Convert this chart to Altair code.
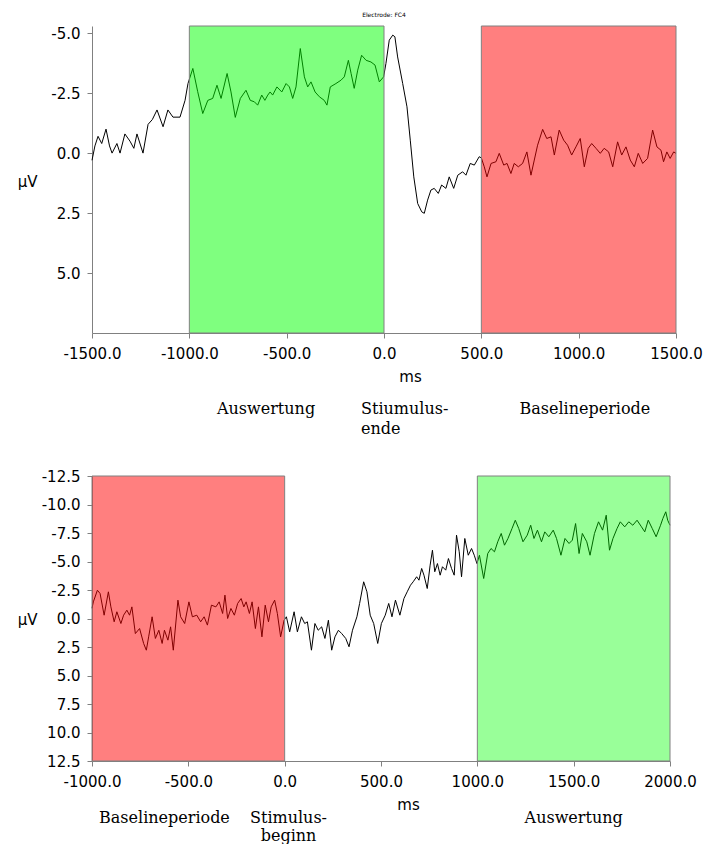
import altair as alt
import pandas as pd

# ---- Upper panel: stimulus offset at 0 ms (Electrode FC4) ----
top_ms = [
    -1500, -1485, -1469, -1450, -1428, -1410, -1397, -1372, -1356, -1331, -1305, -1285,
    -1269, -1238, -1212, -1190, -1166, -1135, -1110, -1084, -1048, -1022, -1007,
    -982, -957, -931, -905, -880, -858, -837, -806, -786, -764, -738, -709, -687, -666,
    -649, -628, -612, -597, -585, -572, -550, -525, -503, -486, -469, -452, -430, -409,
    -392, -375, -354, -332, -307, -293, -276, -247, -221, -204, -183, -169, -153, -135,
    -115, -92, -67, -46, -24, -2,
    10, 27, 45, 56, 70, 96, 118, 135, 153, 173, 194, 207, 224, 241, 258, 279, 296, 318,
    335, 358, 379, 404, 421, 443, 464, 489, 500,
    515, 529, 550, 575, 592, 615, 632, 652, 669, 690, 712, 734, 755, 772, 789, 815, 836,
    858, 875, 900, 923, 943, 964, 986, 1008, 1029, 1049, 1067, 1089, 1111, 1131, 1154,
    1175, 1200, 1221, 1243, 1265, 1286, 1306, 1329, 1354, 1380, 1402, 1423, 1436, 1453,
    1470, 1488, 1500,
]
top_uv = [
    0.30, -0.30, -0.70, -0.40, -1.00, -0.30, 0.00, -0.40, 0.00, -0.80, -0.50, -0.20,
    -0.80, 0.00, -1.20, -1.40, -1.80, -1.10, -1.80, -1.50, -1.50, -2.20, -2.90,
    -3.53, -2.56, -1.65, -2.20, -2.28, -2.83, -2.28, -3.32, -2.55, -1.49, -2.28, -2.62,
    -2.20, -2.14, -2.00, -2.42, -2.20, -2.42, -2.55, -2.42, -2.76, -2.55, -2.90, -2.76,
    -2.28, -2.76, -4.36, -3.18, -2.76, -2.97, -2.55, -2.35, -2.20, -2.00, -2.76, -2.90,
    -3.04, -3.18, -3.87, -3.32, -2.70, -3.46, -4.08, -3.87, -3.80, -3.67, -2.97, -3.18,
    -3.74, -4.71, -4.92, -4.85, -4.01, -2.90, -1.93, -0.54, 0.99, 2.10, 2.45, 2.51, 1.96,
    1.54, 1.47, 1.68, 1.33, 1.47, 0.99, 1.47, 0.92, 0.78, 0.92, 0.43, 0.50, 0.15, 0.20,
    0.57, 0.99, 0.43, 0.36, 0.01, 0.50, 0.43, 0.85, 0.43, 0.57, 0.43, -0.05, 0.92, 0.29,
    -0.33, -0.99, -0.61, -0.68, 0.08, -0.96, -0.54, -0.33, 0.08, -0.26, -0.61, 0.57,
    -0.20, -0.40, -0.20, 0.01, -0.20, -0.05, 0.57, -0.47, 0.08, -0.26, 0.29, 0.57, 0.01,
    0.43, 0.22, -0.96, -0.26, -0.12, 0.36, -0.05, 0.22, -0.05, 0.01,
]
top_x_ticks = [-1500, -1000, -500, 0, 500, 1000, 1500]
top_y_ticks = [-5.0, -2.5, 0.0, 2.5, 5.0]
top_windows = [(-1000, 0, "eval"), (500, 1500, "base")]
top_notes = [("Auswertung", -606), ("Baselineperiode", 1032)]
top_note_left = [("Stiumulus-", -118), ("ende", -118)]

# ---- Lower panel: stimulus onset at 0 ms ----
bot_ms = [
    -1000, -993, -972, -958, -937, -915, -902, -885, -871, -850, -836, -819, -805, -793,
    -775, -753, -732, -718, -706, -688, -671, -653, -636, -624, -606, -592, -578, -554,
    -540, -519, -497, -479, -456, -436, -418, -401, -380, -357, -340, -322, -310, -296,
    -279, -261, -244, -226, -212, -200, -183, -169, -152, -136, -118, -101, -84, -70,
    -52, -38, -21, -3,
    9, 26, 49, 66, 87, 104, 118, 139, 157, 174, 192, 209, 227, 244, 261, 279, 296, 317,
    334, 352, 375, 389, 410, 427, 444, 462, 483, 502, 522, 540, 557, 575, 598, 619, 636,
    653, 667, 685, 697, 711, 723, 740, 755, 767, 779, 793, 807, 819, 836, 850, 866, 880,
    892, 906, 918, 935, 953, 970, 984, 998,
    1011, 1033, 1054, 1071, 1089, 1106, 1124, 1141, 1159, 1180, 1197, 1215, 1237, 1259,
    1277, 1294, 1312, 1333, 1350, 1371, 1394, 1411, 1434, 1455, 1476, 1493, 1510, 1528,
    1545, 1568, 1585, 1608, 1629, 1650, 1669, 1686, 1704, 1725, 1742, 1765, 1786, 1807,
    1829, 1852, 1869, 1887, 1908, 1928, 1951, 1963, 1978, 1988, 2000,
]
bot_uv = [
    -0.90, -1.46, -2.48, -2.19, -0.29, -2.34, -1.02, 0.29, -0.59, 0.44, -0.29, -0.73,
    -0.29, -1.02, 1.32, 0.88, 2.19, 2.78, 1.61, -0.15, 1.75, 1.03, 2.19, 1.03, 1.90, 0.73,
    2.78, -1.61, -0.15, 0.44, -1.46, -0.15, -0.29, 0.29, -0.15, 0.58, -1.17, -1.02, -1.46,
    -0.44, -2.05, 0.00, -0.88, -0.29, -1.32, -1.75, -1.02, -1.46, -0.44, -1.46, 0.88,
    -1.02, 1.61, -1.17, 0.29, -1.02, -1.61, -0.44, 1.61, 0.15,
    -0.15, 1.17, -0.59, 1.17, -0.15, 0.44, 0.29, 2.78, 0.44, 1.03, 0.73, 1.75, 0.15, 2.78,
    1.61, 1.03, 1.32, 1.75, 2.48, 1.03, -0.15, -1.32, -3.22, -2.34, -0.29, 0.44, 2.19,
    0.44, -0.29, -1.32, -0.15, -1.61, -0.29, -1.75, -2.34, -2.92, -3.22, -3.66, -3.36,
    -4.39, -3.80, -2.63, -4.68, -5.99, -4.10, -4.82, -3.80, -4.54, -4.24, -5.26, -4.39,
    -3.80, -7.31, -5.85, -3.66, -7.02, -5.55, -6.14, -5.55, -4.82,
    -5.55, -3.51, -5.70, -6.14, -5.85, -6.73, -7.46, -6.43, -7.02, -7.89, -8.62, -7.89,
    -6.73, -7.31, -8.18, -7.02, -7.75, -6.73, -7.60, -7.17, -7.75, -7.02, -5.55, -7.02,
    -6.58, -6.87, -8.33, -5.70, -7.46, -6.73, -5.55, -7.46, -8.48, -7.75, -9.06, -5.99,
    -7.02, -7.89, -8.48, -8.04, -8.48, -8.18, -8.62, -8.04, -7.60, -8.62, -7.89, -7.17,
    -8.18, -8.77, -9.36, -8.62, -8.18,
]
bot_x_ticks = [-1000, -500, 0, 500, 1000, 1500, 2000]
bot_y_ticks = [-12.5, -10.0, -7.5, -5.0, -2.5, 0.0, 2.5, 5.0, 7.5, 10.0, 12.5]
bot_windows = [(-1000, 0, "base"), (1000, 2000, "eval")]
bot_notes = [("Baselineperiode", -624), ("Stimulus-", 20), ("Auswertung", 1500)]
bot_note_second = [("beginn", 20)]

# ---- styling ----
GREY = "#808080"
SANS = "DejaVu Sans"
SERIF = "DejaVu Serif"
LABEL_EXPR = "(datum.value < 0 ? '-' : '') + format(abs(datum.value), '.1f')"


def x_enc(field, domain, ticks, title_x):
    return alt.X(
        f"{field}:Q",
        scale=alt.Scale(domain=domain, nice=False, zero=False),
        axis=alt.Axis(
            values=ticks, title="ms", labelExpr=LABEL_EXPR, tickSize=5,
            labelPadding=8, titleX=title_x, titleY=43, titleAlign="center",
            titleBaseline="middle", labelFlush=False, labelOverlap=False,
        ),
    )


def panel(ms, uv, ydomain, yticks, xdomain, xticks, windows, width, height,
          eval_alpha, ytitle_y, title_x, notes):
    line_df = pd.DataFrame({"ms": ms, "uv": uv})
    line = alt.Chart(line_df).mark_line(color="black", strokeWidth=1).encode(
        x=x_enc("ms", xdomain, xticks, title_x),
        y=alt.Y(
            "uv:Q",
            scale=alt.Scale(domain=ydomain, reverse=True, nice=False, zero=False),
            axis=alt.Axis(
                values=yticks, title="µV", labelExpr=LABEL_EXPR, tickSize=5,
                labelPadding=7, titleAngle=0, titleX=-55, titleY=ytitle_y,
                titleAlign="right", titleBaseline="middle", labelFlush=False,
                labelOverlap=False,
            ),
        ),
    )
    layers = [line]
    # translucent windows drawn over the trace, so the trace shows through tinted
    for start, end, kind in windows:
        fill = "#00ff00" if kind == "eval" else "#ff0000"
        alpha = eval_alpha if kind == "eval" else 0.5
        wdf = pd.DataFrame({"ms": [start], "ms_end": [end]})
        layers.append(
            alt.Chart(wdf).mark_rect(
                fill=fill, fillOpacity=alpha, stroke=GREY, strokeWidth=1, strokeOpacity=1
            ).encode(
                x=x_enc("ms", xdomain, xticks, title_x),
                x2="ms_end:Q",
                y=alt.value(0),
                y2=alt.value(height),
            )
        )
    for text, at_ms, py, align in notes:
        ndf = pd.DataFrame({"ms": [at_ms], "label": [text]})
        layers.append(
            alt.Chart(ndf).mark_text(
                font=SERIF, fontSize=16, color="black", align=align, baseline="middle"
            ).encode(
                x=x_enc("ms", xdomain, xticks, title_x),
                y=alt.value(py),
                text="label:N",
            )
        )
    return alt.layer(*layers).properties(width=width, height=height)


TOP_W, TOP_H = 584, 307
BOT_W, BOT_H = 578, 285

top_note_rows = [(t, m, 383, "center") for t, m in top_notes]
top_note_rows += [(top_note_left[0][0], top_note_left[0][1], 383, "left"),
                  (top_note_left[1][0], top_note_left[1][1], 403, "left")]
bot_note_rows = [(t, m, 342, "center") for t, m in bot_notes]
bot_note_rows += [(t, m, 360, "center") for t, m in bot_note_second]

top = panel(top_ms, top_uv, [-5.3, 7.5], top_y_ticks, [-1500, 1500], top_x_ticks,
            top_windows, TOP_W, TOP_H, 0.5, 155, 318, top_note_rows).properties(
    title=alt.TitleParams(
        "Electrode: FC4", fontSize=6, font=SANS, fontWeight="normal", anchor="middle",
        frame="group", offset=8, color="black",
    )
)
bottom = panel(bot_ms, bot_uv, [-12.5, 12.5], bot_y_ticks, [-1000, 2000], bot_x_ticks,
               bot_windows, BOT_W, BOT_H, 0.4, 143, 316, bot_note_rows)

chart = alt.vconcat(top, bottom, spacing=32).properties(
    padding={"left": 17, "top": 11, "right": 0, "bottom": 0}
).configure_axis(
    labelFont=SANS, labelFontSize=15, titleFont=SANS, titleFontSize=15,
    titleFontWeight="normal", grid=False, domainColor=GREY, tickColor=GREY,
    labelColor="black", titleColor="black",
).configure_view(stroke=None)

chart.save("out.html", embed_options={"renderer": "svg", "actions": False})
